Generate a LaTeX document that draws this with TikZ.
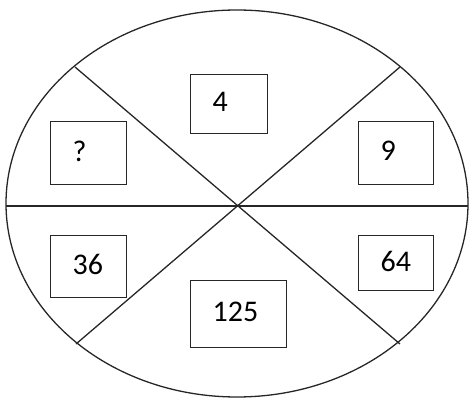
\documentclass[tikz,border=0pt]{standalone}
\usepackage{fontspec}
\setmainfont{Carlito}
\begin{document}
\begin{tikzpicture}[x=1pt,y=-1pt,
  ln/.style={line width=1.3pt, draw=black!85},
  numbox/.style={draw=black!85, line width=1.3pt, inner xsep=22pt, inner ysep=0pt,
    align=left, font=\fontsize{30}{32}\selectfont, text depth=4pt, anchor=north west}]
\useasboundingbox (0,0) rectangle (469,398);
\coordinate (c) at (238,206);
\coordinate (ul) at (75,67);
\coordinate (ur) at (400,67);
\coordinate (ll) at (76,344);
\coordinate (lr) at (400,344);
\coordinate (l) at (6,206);
\coordinate (r) at (468,206);
\draw[ln] (237,203.5) ellipse [x radius=231, y radius=193.5];
\draw[ln] (ul) -- (lr);
\draw[ln] (ur) -- (ll);
\draw[ln] (l) -- (r);
\node[numbox, text width=33pt, minimum height=59pt] (b4) at (190,74) {4};
\node[numbox, text width=32pt, minimum height=63pt] (bq) at (50,121) {?};
\node[numbox, text width=31pt, minimum height=63pt] (b9) at (358,121) {9};
\node[numbox, text width=32pt, minimum height=62pt] (b36) at (50,235) {36};
\node[numbox, text width=31pt, minimum height=55pt] (b64) at (358,235) {64};
\node[numbox, text width=52pt, minimum height=67pt] (b125) at (190,280) {125};
\end{tikzpicture}
\end{document}
